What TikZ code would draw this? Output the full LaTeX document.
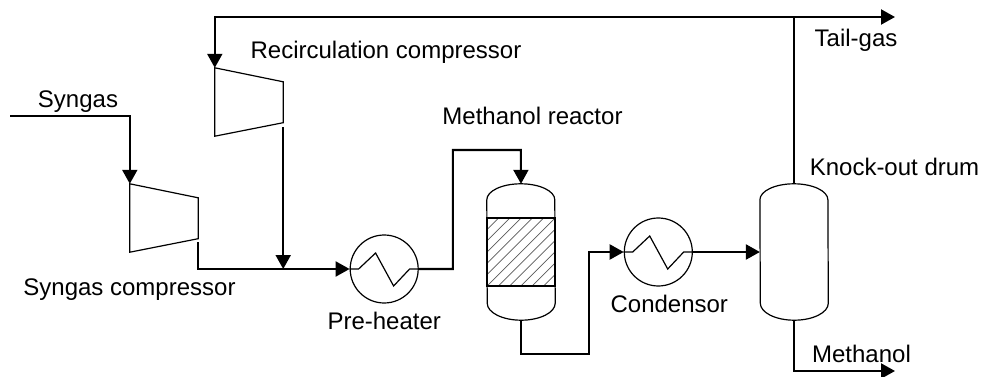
\documentclass[tikz,border=0pt]{standalone}
\usepackage{fontspec}
\setmainfont{Liberation Sans}
\usetikzlibrary{arrows.meta,positioning,calc}
\tikzset{
  vessel/.style={minimum width=68pt, minimum height=136pt, inner sep=0pt},
  comp/.style={minimum width=68pt, minimum height=68pt, inner sep=0pt},
  exch/.style={circle, draw, line width=1.2pt, minimum size=68pt, inner sep=0pt},
  bedbox/.style={draw, line width=1.2pt, minimum width=68pt, minimum height=68pt, inner sep=0pt, path picture={
      \foreach \i in {-7,...,7} \draw[black!65, line width=.7pt] ($(path picture bounding box.center)+(\i*11.3pt-40pt,-40pt)$) -- ++(80pt,80pt);}},
  unit/.style={line width=1.2pt, line join=miter},
  pipe/.style={line width=2.1pt},
  arr/.style={pipe, -{Triangle[length=14pt,width=15pt]}},
  lbl/.style={font=\fontsize{24}{28}\selectfont, inner sep=0pt, text height=17pt, text depth=5pt, yshift=-2.5pt}}
\newcommand{\drawcomp}[1]{\draw[unit] (#1.north west) -- ($(#1.north east)+(0,-14pt)$) -- ($(#1.south east)+(0,13.5pt)$) -- (#1.south west) -- cycle;}
\newcommand{\drawdome}[1]{\draw[unit] ($(#1.north west)+(0,-16pt)$) arc[start angle=180, end angle=0, x radius=34pt, y radius=16pt] -- ($(#1.south east)+(0,17pt)$) arc[start angle=0, end angle=-180, x radius=34pt, y radius=17pt] -- cycle;}
\newcommand{\drawcoil}[1]{\draw[unit] (#1.west) -- ++(9pt,0) -- ++(17pt,16pt) -- ++(18pt,-33pt) -- ++(16pt,17pt) -- (#1.east);}

\begin{document}
\begin{tikzpicture}[x=1pt, y=-1pt, font=\small]
  \useasboundingbox (0,0) rectangle (982,377);
  \node[vessel] (reactor) at (521,252) {};
  \node[bedbox] (bed) at (reactor) {};
  \node[exch, left=68pt of reactor, yshift=-17pt] (pre) {};
  \node[exch, right=68.5pt of reactor] (cond) {};
  \node[vessel, right=67pt of cond] (drum) {};
  \node[comp] (sc) at (164,218) {};
  \node[comp] (rc) at (249,102) {};
  \drawdome{reactor} \drawdome{drum}
  \drawcomp{sc} \drawcomp{rc}
  \drawcoil{pre} \drawcoil{cond}
  % ports and free ends
  \coordinate (feed) at (10,116);
  \coordinate (scout) at ($(sc.south east)+(0,10pt)$);
  \coordinate (rcout) at ($(rc.south east)+(0,9pt)$);
  \coordinate (mix) at (rc.east |- pre.west);
  \coordinate (tail) at (895,17);
  \coordinate (tee) at (drum.north |- tail);
  \coordinate (prod) at (895,371);
  % streams
  \draw[arr] (feed) -| (sc.north west);
  \draw[arr] (scout) |- (pre.west);
  \draw[arr] (rcout) -- (mix);
  \draw[arr] (tee) -- (tail);
  \draw[pipe] (drum.north) -- (tee);
  \draw[arr] (tee) -- (tee -| rc.west) -- (rc.north west);
  \draw[arr] (pre.east) -- ++(34pt,0) |- ++(68pt,119pt) -- (reactor.north);
  \draw[arr] (reactor.south) |- ++(68pt,-34pt) |- (cond.west);
  \draw[arr] (cond.east) -- (drum.west);
  \draw[arr] (drum.south) |- (prod);
  % labels
  \node[lbl] (lsyn) at (78,99) {Syngas};
  \node[lbl] (lrc) at (386,50) {Recirculation compressor};
  \node[lbl] (lsc) at (129.5,287) {Syngas compressor};
  \node[lbl, below=6pt of pre] (lpre) {Pre-heater};
  \node[lbl] (lreact) at (532.5,116) {Methanol reactor};
  \node[lbl, below=6pt of cond, xshift=11pt] (lcond) {Condensor};
  \node[lbl] (lko) at (894.5,167) {Knock-out drum};
  \node[lbl] (ltail) at (856,38) {Tail-gas};
  \node[lbl] (lmeth) at (861.5,354) {Methanol};
\end{tikzpicture}
\end{document}
